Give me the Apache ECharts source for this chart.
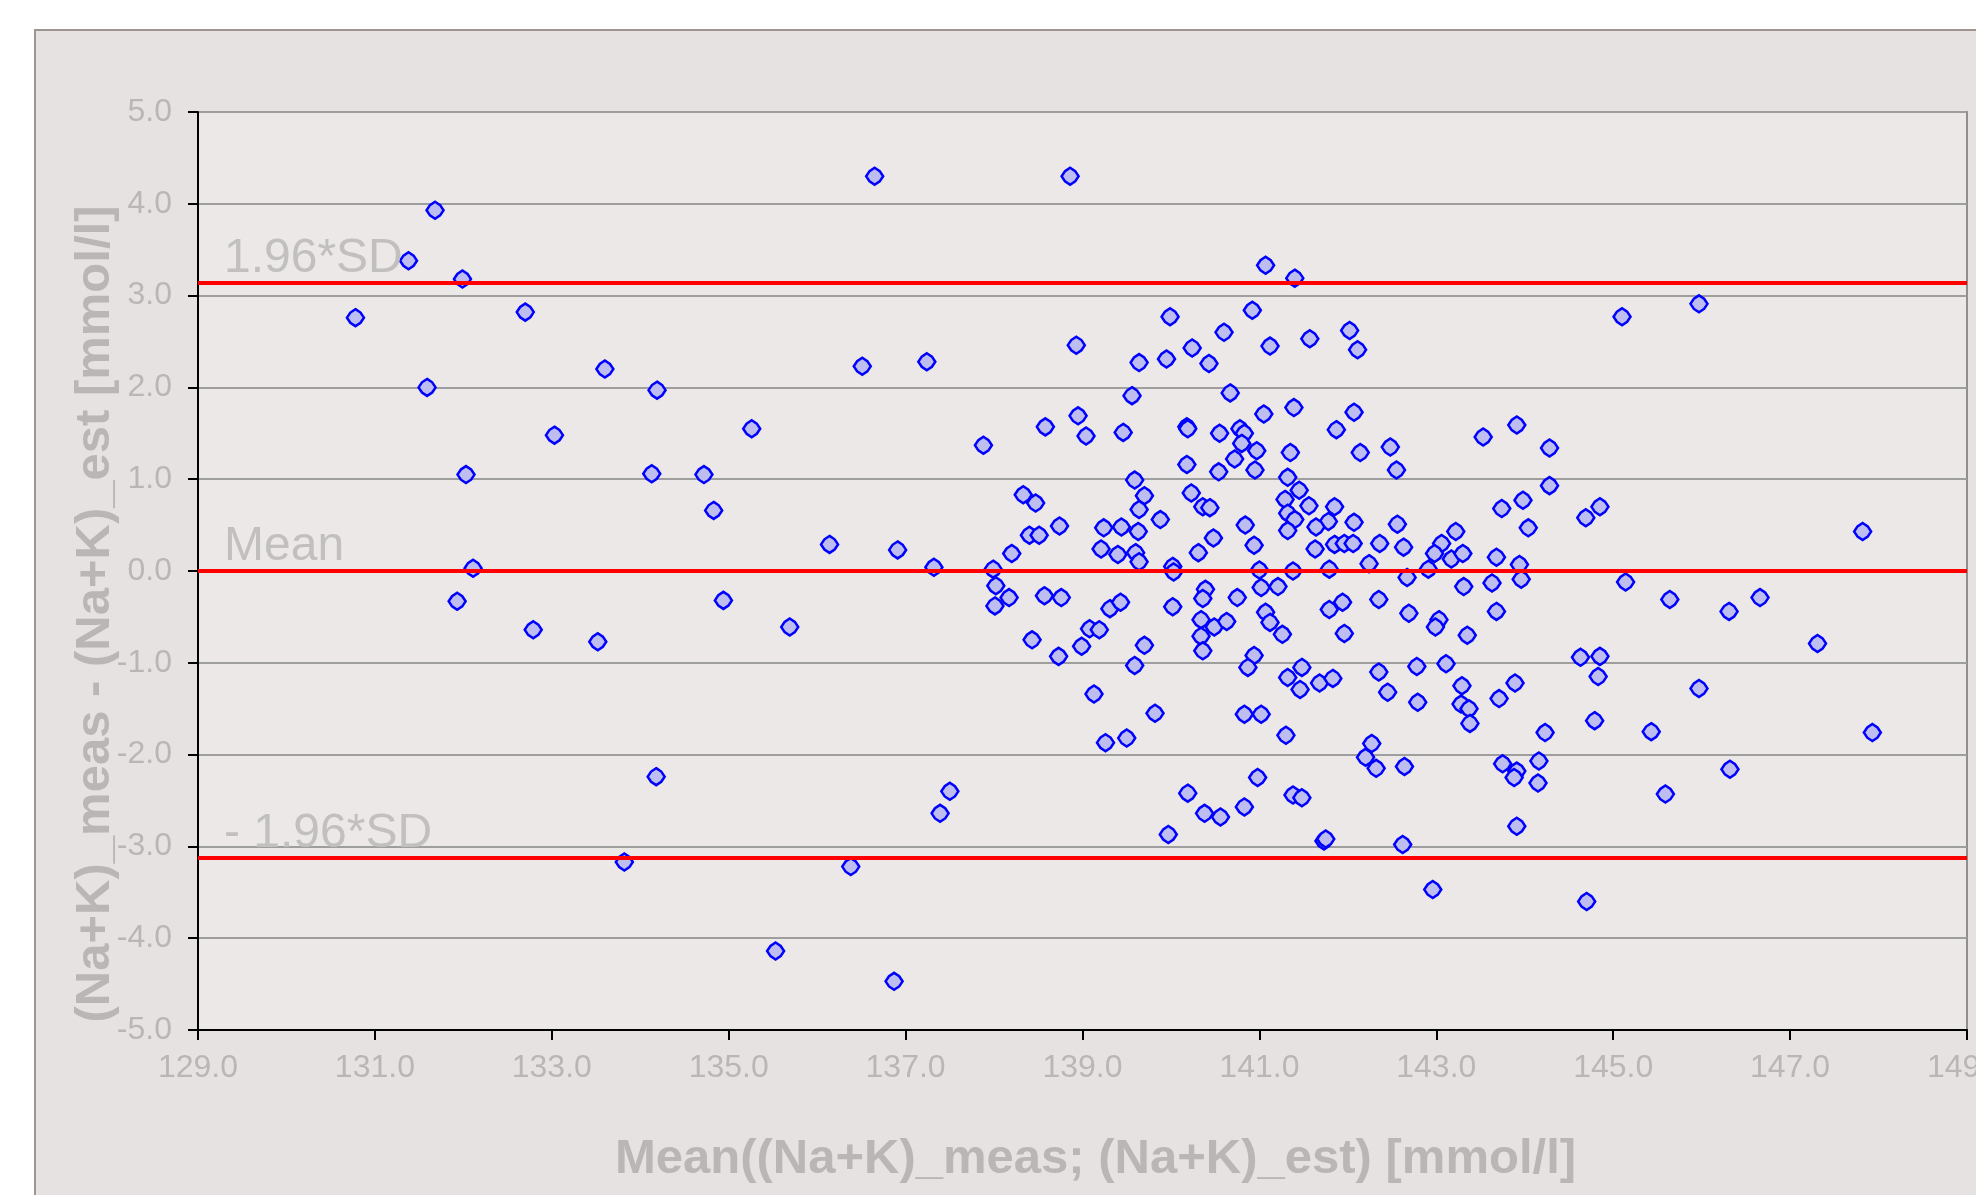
<!DOCTYPE html>
<html><head><meta charset="utf-8">
<script src="https://cdn.jsdelivr.net/npm/echarts@6/dist/echarts.min.js"></script>
<style>html,body{margin:0;padding:0;background:#fff;overflow:hidden}#c{width:1976px;height:1195px}</style>
</head><body><div id="c"></div>
<script>
// Mean of the two methods (x) and their difference (y)
const meanX = [
131.68,131.38,131.99,130.78,132.70,131.59,133.03,132.03,132.11,131.93,132.79,136.65,133.60,134.19,136.51,135.26,134.13,134.72,134.83,136.14,136.91,133.52,134.94,135.69,134.18,133.82,136.38,135.53,136.87,
138.86,141.07,139.99,140.92,140.60,138.93,137.24,140.24,141.12,139.64,139.95,140.43,139.56,140.67,141.05,138.95,138.58,139.04,139.46,140.18,140.19,140.55,140.78,140.83,140.80,140.97,137.88,140.72,140.18,140.54,140.95,139.59,139.70,138.33,138.47,140.23,140.36,140.44,139.64,139.88,138.74,139.24,139.44,139.63,138.40,138.51,140.84,140.48,140.94,138.20,139.21,139.40,139.60,140.31,139.64,137.32,137.99,140.02,140.03,141.00,
138.02,138.17,138.01,138.57,138.76,139.31,139.43,140.02,140.39,140.36,140.75,141.02,141.21,141.07,141.12,141.26,140.34,140.49,140.63,140.34,140.36,139.08,139.19,138.43,138.99,138.73,139.70,139.59,140.94,140.87,139.13,139.82,140.83,141.02,139.26,139.50,140.98,137.50,137.39,140.19,140.38,140.56,140.83,139.97,
141.40,145.10,142.02,141.57,142.11,141.39,142.07,141.87,143.91,143.53,141.35,142.14,142.48,144.28,142.55,141.32,144.28,141.45,141.29,141.56,141.85,141.32,141.40,141.78,141.32,141.64,142.07,142.56,143.74,143.98,144.85,144.69,144.04,143.22,143.06,141.63,141.85,141.96,142.06,142.36,142.63,142.98,143.17,143.30,143.68,143.94,142.24,142.91,141.38,141.79,
142.67,143.31,143.63,143.96,145.14,142.35,141.79,141.94,142.69,143.03,142.99,143.68,141.96,143.35,144.63,144.85,144.83,141.48,141.32,141.46,141.68,141.83,142.35,142.45,142.78,143.11,142.79,143.29,143.28,143.37,143.38,143.89,143.71,144.79,144.23,141.30,142.27,142.20,142.32,142.64,143.75,143.91,143.88,144.16,144.15,141.38,141.48,143.91,141.73,141.75,142.62,142.96,144.70,
145.97,147.82,145.64,146.31,146.66,147.31,145.97,145.43,147.93,146.32,145.59
];
const diffY = [
3.93,3.38,3.18,2.76,2.82,2.00,1.48,1.05,0.03,-0.33,-0.64,4.30,2.20,1.97,2.23,1.55,1.06,1.05,0.66,0.29,0.23,-0.77,-0.32,-0.61,-2.24,-3.17,-3.22,-4.14,-4.47,
4.30,3.33,2.77,2.84,2.60,2.46,2.28,2.43,2.45,2.27,2.31,2.26,1.91,1.94,1.71,1.69,1.57,1.47,1.51,1.57,1.55,1.50,1.55,1.50,1.39,1.31,1.37,1.22,1.16,1.08,1.10,0.99,0.82,0.83,0.74,0.85,0.70,0.69,0.67,0.56,0.49,0.47,0.48,0.43,0.39,0.39,0.50,0.36,0.28,0.19,0.24,0.18,0.20,0.20,0.10,0.04,0.02,0.05,-0.01,0.01,
-0.16,-0.29,-0.38,-0.27,-0.29,-0.41,-0.34,-0.39,-0.20,-0.30,-0.29,-0.18,-0.17,-0.45,-0.56,-0.69,-0.53,-0.61,-0.55,-0.71,-0.87,-0.63,-0.64,-0.75,-0.82,-0.93,-0.81,-1.03,-0.92,-1.05,-1.34,-1.55,-1.56,-1.56,-1.87,-1.82,-2.25,-2.40,-2.64,-2.42,-2.64,-2.68,-2.57,-2.87,
3.19,2.77,2.62,2.53,2.41,1.78,1.73,1.54,1.59,1.46,1.29,1.29,1.35,1.34,1.10,1.02,0.93,0.88,0.78,0.71,0.70,0.63,0.56,0.54,0.44,0.48,0.53,0.51,0.68,0.77,0.70,0.58,0.47,0.43,0.30,0.24,0.29,0.30,0.30,0.30,0.26,0.19,0.13,0.19,0.15,0.07,0.08,0.02,0.00,0.02,
-0.07,-0.17,-0.13,-0.09,-0.12,-0.31,-0.42,-0.34,-0.46,-0.53,-0.61,-0.44,-0.68,-0.70,-0.94,-0.93,-1.15,-1.05,-1.16,-1.29,-1.22,-1.17,-1.10,-1.32,-1.04,-1.01,-1.43,-1.25,-1.45,-1.50,-1.66,-1.22,-1.39,-1.63,-1.76,-1.79,-1.88,-2.03,-2.15,-2.13,-2.10,-2.18,-2.25,-2.07,-2.31,-2.44,-2.47,-2.78,-2.94,-2.92,-2.98,-3.47,-3.60,
2.91,0.43,-0.31,-0.44,-0.29,-0.79,-1.28,-1.75,-1.76,-2.16,-2.43
];
const xTickValues = [129,131,133,135,137,139,141,143,145,147,149];
const yTickValues = [-5,-4,-3,-2,-1,0,1,2,3,4,5];
const meanDiff = 0.0;
const upperLoA = 3.14;
const lowerLoA = -3.12;
const lineLabels = ['1.96*SD', 'Mean', '- 1.96*SD'];
const xTitle = 'Mean((Na+K)_meas; (Na+K)_est) [mmol/l]';
const yTitle = '(Na+K)_meas - (Na+K)_est [mmol/l]';

const points = meanX.map((x, i) => [x, diffY[i]]);
const FONT = '"Liberation Sans", Arial, sans-serif';
const GRAYTXT = '#b9b6b5';

const chart = echarts.init(document.getElementById('c'), null, {renderer: 'canvas'});
const lineLabel = (txt) => ({
  show: true, formatter: txt, position: 'insideStartTop', distance: [26, 0],
  color: '#c2c0bf', fontSize: 48, fontFamily: FONT
});
chart.setOption({
  animation: false,
  backgroundColor: 'transparent',
  graphic: [{
    type: 'rect', z: -10, silent: true,
    shape: {x: 35, y: 30, width: 2000, height: 1200},
    style: {fill: '#e6e2e1', stroke: '#9f9590', lineWidth: 2}
  }],
  grid: {
    left: 198, right: 9, top: 112, bottom: 165,
    containLabel: false, outerBoundsMode: 'none',
    show: true, backgroundColor: '#ebe8e7', borderColor: '#8f8f8f', borderWidth: 2
  },
  xAxis: {
    type: 'value', min: xTickValues[0], max: xTickValues[xTickValues.length - 1],
    name: xTitle, nameLocation: 'middle', nameGap: 105, nameMoveOverlap: false,
    nameTextStyle: {color: GRAYTXT, fontSize: 49, fontWeight: 'bold', fontFamily: FONT, padding: [0, 0, 0, 26]},
    axisLine: {show: true, onZero: false, lineStyle: {color: '#000', width: 2}},
    axisTick: {show: true, inside: false, length: 10, lineStyle: {color: '#000', width: 2}, customValues: xTickValues},
    axisLabel: {customValues: xTickValues, formatter: v => v.toFixed(1), color: GRAYTXT, fontSize: 32, fontFamily: FONT, margin: 22, showMaxLabel: true, showMinLabel: true, hideOverlap: false},
    splitLine: {show: false}
  },
  yAxis: {
    type: 'value', min: -5, max: 5, interval: 1,
    name: yTitle, nameLocation: 'middle', nameGap: 78, nameRotate: 90, nameMoveOverlap: false,
    nameTextStyle: {color: GRAYTXT, fontSize: 49, fontWeight: 'bold', fontFamily: FONT, padding: [0, 86, 0, 0]},
    axisLine: {show: true, onZero: false, lineStyle: {color: '#000', width: 2}},
    axisTick: {show: true, inside: false, length: 10, lineStyle: {color: '#000', width: 2}},
    axisLabel: {formatter: v => v.toFixed(1), color: GRAYTXT, fontSize: 32, fontFamily: FONT, margin: 26},
    splitLine: {show: true, lineStyle: {color: '#9e9e9e', width: 2}}
  },
  series: [{
    type: 'scatter', name: 'Differences', data: points, z: 2,
    symbol: 'path://M5,0 L8,2 L10,5 L8,8 L5,10 L2,8 L0,5 L2,2 Z', symbolSize: 17,
    itemStyle: {color: '#bdbdf0', borderColor: '#0000ff', borderWidth: 2.5, opacity: 1}
  }, {
    type: 'scatter', name: 'Limits', data: [], z: 3,
    markLine: {
      silent: true, symbol: ['none', 'none'], animation: false,
      lineStyle: {color: '#ff0000', width: 4, type: 'solid'},
      data: [
        {yAxis: upperLoA, label: lineLabel(lineLabels[0])},
        {yAxis: meanDiff, label: lineLabel(lineLabels[1])},
        {yAxis: lowerLoA, label: lineLabel(lineLabels[2])}
      ]
    }
  }]
});
</script></body></html>
